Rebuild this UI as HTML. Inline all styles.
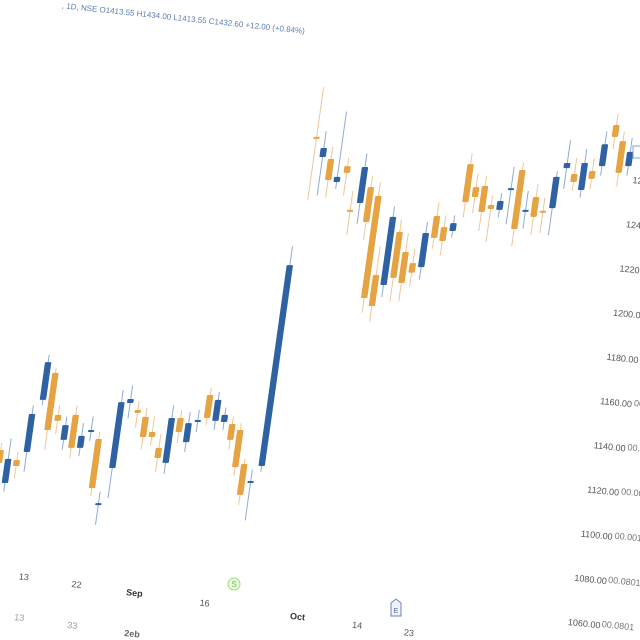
<!DOCTYPE html>
<html><head><meta charset="utf-8"><style>
html,body{margin:0;padding:0;background:#fff;}
svg{display:block;font-family:"Liberation Sans",sans-serif;}
</style></head><body>
<svg id="chart" width="640" height="640" viewBox="0 0 640 640" xmlns="http://www.w3.org/2000/svg">
<rect width="640" height="640" fill="#fff"/>
<g transform="rotate(6 60 5)">
<text x="62" y="8" font-size="8" fill="#5a7fb0">, 1D, NSE  O1413.55  H1434.00  L1413.55  C1432.60  +12.00 (+0.84%)</text>
</g>
<g id="yaxis" font-size="9" fill="#555"></g>
<g id="xaxis" font-size="9" fill="#555"></g>
<g font-size="9" fill="#999">
<text x="14" y="620" transform="rotate(6 14 620)">13</text>
<text x="67" y="628" transform="rotate(6 67 628)">33</text>
<text x="124" y="636" font-weight="bold" fill="#666" transform="rotate(6 124 636)">2eb</text>
</g>
<g id="plot" transform="skewX(-8)"></g>
<g><circle cx="234" cy="584" r="6" fill="#eaf8dc" stroke="#9be07a" stroke-width="1"/><text x="234" y="587" font-size="8" text-anchor="middle" fill="#6cc24a">S</text></g>
<g><path d="M391 603 L396 599 L401 603 L401 616 L391 616 Z" fill="#eef2fa" stroke="#6d86b8" stroke-width="1"/><text x="396" y="613" font-size="7" text-anchor="middle" fill="#4a66a0">E</text></g>
<rect x="633" y="146" width="10" height="12" fill="#fff" stroke="#7fa0d0" stroke-width="1"/>
</svg>
<script>
const opens  = [1137.8,1122.9,1133.3,1136.9,1160.5,1172.7,1153.7,1142.4,1153.7,1138.8,1146.0,1142.8,1113.4,1129.7,1159.1,1155.9,1152.8,1146.0,1138.8,1132.0,1152.3,1141.4,1150.5,1162.7,1151.0,1150.5,1149.6,1146.9,1131.5,1123.3,1130.6,1279.5,1270.4,1269.5,1259.1,1266.3,1246.5,1249.6,1256.8,1252.8,1217.0,1212.5,1236.5,1227.4,1222.4,1220.6,1243.7,1238.7,1236.9,1267.2,1256.8,1257.3,1248.7,1246.5,1255.8,1264.5,1246.2,1252.3,1246.1,1247.3,1265.4,1262.7,1255.5,1264.1,1266.3,1284.9,1277.6,1266.3];
const closes = [1132.0,1133.8,1130.6,1154.1,1177.6,1146.9,1151.0,1149.1,1138.8,1144.2,1146.9,1120.6,1113.8,1159.5,1160.9,1154.6,1143.7,1143.7,1134.2,1152.3,1146.0,1150.0,1151.4,1152.3,1160.5,1153.7,1142.4,1130.1,1117.5,1123.8,1221.5,1279.0,1274.5,1260.0,1261.4,1263.2,1246.0,1265.9,1241.0,1206.6,1203.0,1243.3,1215.7,1213.4,1218.1,1236.0,1233.8,1232.4,1240.5,1250.0,1252.3,1245.5,1246.9,1250.5,1256.3,1237.8,1246.5,1243.3,1245.7,1261.4,1267.7,1259.1,1267.7,1260.5,1276.2,1279.5,1263.2,1272.7];
const highs  = [1141,1143,1137,1158,1181,1175,1158,1153,1158,1150,1153,1146,1119,1165,1167,1160,1157,1153,1145,1158,1156,1155,1156,1166,1164,1157,1153,1150,1134,1129,1230,1302,1282,1275,1291,1270,1255,1272,1262,1259,1230,1248,1242,1236,1229,1241,1250,1244,1244,1272,1263,1262,1253,1254,1266,1268,1255,1258,1252,1264,1278,1270,1274,1270,1282,1290,1282,1279];
const lows   = [1128,1119,1125,1128,1158,1138,1145,1138,1134,1135,1142,1117,1104,1116,1152,1148,1138,1140,1128,1127,1141,1137,1146,1149,1147,1147,1138,1126,1113,1106,1128,1251,1253,1252,1256,1253,1235,1240,1233,1200,1196,1207,1205,1205,1212,1215,1229,1226,1234,1243,1245,1237,1232,1243,1240,1230,1238,1235,1236,1235,1256,1255,1252,1256,1262,1274,1257,1262];
const yTicks = ["1060.00","1080.00","1100.00","1120.00","1140.00","1160.00","1180.00","1200.00","1220.00","1240.00","1260.00"];
const yTickVals = [1060,1080,1100,1120,1140,1160,1180,1200,1220,1240,1260];
const ghostTicks = ["00.0801","00.0801","00.0011","00.0021","00.0041","00.0061"];
const xLabels = ["13","22","Sep","16","Oct","14","23"];
const xLabelIdx = [-4.6,1.4,8,16,26.6,33.4,39.3];
const xLabelBold = [false,false,true,false,true,false,false];

const NS="http://www.w3.org/2000/svg";
function y(p){return 622-(p-1060)*2.21;}
function x(i){return 64+i*8.77;}
const plot=document.getElementById('plot');
for(let i=0;i<opens.length;i++){
  const up=closes[i]>=opens[i];
  const col=up?'#2f62a3':'#e5a344';
  const wcol=up?'#8fa9d6':'#f0c49a';
  const w=document.createElementNS(NS,'line');
  
  
  w.setAttribute('x1',x(i));w.setAttribute('x2',x(i));
  w.setAttribute('y1',y(highs[i]));w.setAttribute('y2',y(lows[i]));
  w.setAttribute('stroke',wcol);w.setAttribute('stroke-width','1');
  plot.appendChild(w);
  const top=y(Math.max(opens[i],closes[i])),bot=y(Math.min(opens[i],closes[i]));
  const b=document.createElementNS(NS,'rect');
  
  
  b.setAttribute('x',x(i)-3.2);b.setAttribute('width',6.4);
  b.setAttribute('y',top);b.setAttribute('height',Math.max(bot-top,2));
  b.setAttribute('rx',1);b.setAttribute('fill',col);
  plot.appendChild(b);
}
const ya=document.getElementById('yaxis');
for(let k=0;k<yTicks.length;k++){
  const yy=y(yTickVals[k]);
  const xx=568+(622-yy)*0.146;
  const t=document.createElementNS(NS,'text');
  
  
  t.setAttribute('x',xx);t.setAttribute('y',yy+3);
  t.setAttribute('transform','rotate(6 '+xx+' '+yy+')');
  t.textContent=yTicks[k];
  ya.appendChild(t);
  if(k<ghostTicks.length){
    const g=document.createElementNS(NS,'text');
    
    
    g.setAttribute('x',xx+34);g.setAttribute('y',yy+5);
    g.setAttribute('fill','#777');
    g.setAttribute('transform','rotate(6 '+(xx+34)+' '+yy+')');
    g.textContent=ghostTicks[k];
    ya.appendChild(g);
  }
}
const xa=document.getElementById('xaxis');
for(let k=0;k<xLabels.length;k++){
  const xx=x(xLabelIdx[k]);
  const yy=580+(xx-24)*0.145;
  const t=document.createElementNS(NS,'text');
  
  
  t.setAttribute('x',xx);t.setAttribute('y',yy);
  t.setAttribute('text-anchor','middle');
  t.setAttribute('transform','rotate(6 '+xx+' '+yy+')');
  if(xLabelBold[k]){t.setAttribute('font-weight','bold');t.setAttribute('fill','#333');}
  t.textContent=xLabels[k];
  xa.appendChild(t);
}
</script>
</body></html>
